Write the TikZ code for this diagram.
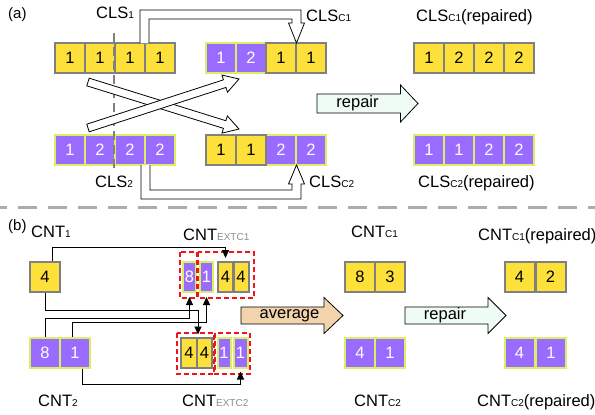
\documentclass[tikz,border=0pt]{standalone}
\usepackage{fontspec}
\setmainfont{Liberation Sans}
\usetikzlibrary{arrows.meta,calc}

\definecolor{cyel}{RGB}{253,224,58}
\definecolor{cpur}{RGB}{153,107,255}
\definecolor{cgrn}{RGB}{218,240,98}
\definecolor{cgry}{RGB}{128,128,128}
\definecolor{csep}{RGB}{172,172,172}
\definecolor{avgfill}{RGB}{242,212,172}
\definecolor{repfill}{RGB}{238,252,243}
\definecolor{cred}{RGB}{240,20,20}
\definecolor{subgray}{RGB}{140,140,140}

\newcommand\bigtxt{\fontsize{16.5}{18}\selectfont}
\newcommand\sbs[1]{{\fontsize{10}{10}\selectfont #1}}
\newcommand\gsbs[1]{{\fontsize{10}{10}\selectfont\color{subgray}#1}}

% hollow block arrow: style, tail point, tip point, half shaft, half head, head length
\newcommand\blockarrow[6]{%
  \coordinate (ba-h) at ($(#3)!#6!(#2)$);
  \filldraw[#1] ($(#2)!#4!90:(#3)$) -- ($(ba-h)!#4!-90:(#2)$) -- ($(ba-h)!#5!-90:(#2)$)
    -- (#3) -- ($(ba-h)!#5!90:(#2)$) -- ($(ba-h)!#4!90:(#2)$) -- ($(#2)!#4!-90:(#3)$) -- cycle;
}

\begin{document}
\begin{tikzpicture}[x=1pt,y=-1pt,
  cell/.style={minimum width=30pt, minimum height=30pt, inner sep=0pt, font=\bigtxt, line width=2pt},
  ycell/.style={cell, fill=cyel, draw=cgry, text=black},
  pcell/.style={cell, fill=cpur, draw=cgrn, text=white},
  lbl/.style={anchor=base west, inner sep=0pt, font=\bigtxt},
  hollow/.style={fill=white, draw=black, line width=0.8pt, line join=miter},
  redbox/.style={draw=cred, line width=1.9pt, dash pattern=on 5pt off 3pt},
  arr/.style={-{Triangle[length=8pt,width=7pt]}, line width=0.9pt, black},
]
\useasboundingbox (0,0) rectangle (595,415);

% ---------------- part (a) ----------------
\node[lbl, font=\fontsize{15}{16}\selectfont] (la) at (8,18) {(a)};
\node[lbl] (lcls1) at (96,19) {CLS\sbs{1}};
\node[lbl] (lclsc1) at (306,21.5) {CLS\sbs{C1}};
\node[lbl] (lrep1) at (416,21.5) {CLS\sbs{C1}(repaired)};
\node[lbl] (lcls2) at (95,187) {CLS\sbs{2}};
\node[lbl] (lclsc2) at (309,187) {CLS\sbs{C2}};
\node[lbl] (lrep2) at (418,187) {CLS\sbs{C2}(repaired)};

% CLS1
\foreach \v [count=\i] in {1,1,1,1}
  \node[ycell] (s1-\i) at (40+30*\i,58) {\v};
% CLS2
\foreach \v [count=\i] in {1,2,2,2}
  \node[pcell] (s2-\i) at (40+30*\i,150) {\v};
% CLS_C1
\node[pcell] (c1-1) at (221,58) {1};
\node[pcell] (c1-2) at (251,58) {2};
\node[ycell] (c1-3) at (281,58) {1};
\node[ycell] (c1-4) at (311,58) {1};
% CLS_C2
\node[pcell] (c2-3) at (281,150) {2};
\node[pcell] (c2-4) at (311,150) {2};
\node[ycell] (c2-1) at (221,150) {1};
\node[ycell] (c2-2) at (251,150) {1};
% repaired
\foreach \v [count=\i] in {1,2,2,2}
  \node[ycell] (r1-\i) at (399+30*\i,58) {\v};
\foreach \v [count=\i] in {1,1,2,2}
  \node[pcell] (r2-\i) at (399+30*\i,150) {\v};

% cut position
\draw[cgry, line width=2.5pt, dash pattern=on 9pt off 5pt] (114,33) -- (114,170);

% exchange arrows between the halves
\coordinate (xa-s) at (88,82);
\coordinate (xa-t) at (239,129);
\coordinate (xb-s) at (88,128);
\coordinate (xb-t) at (239,79);
\blockarrow{hollow}{xa-s}{xa-t}{4pt}{9pt}{15pt}
\blockarrow{hollow}{xb-s}{xb-t}{4pt}{9pt}{15pt}

% tail segments copied round the outside
\filldraw[hollow] (149,43) -- (149,19) -- (292,19) -- (292,23) -- (288.5,23) -- (296.5,43)
  -- (304.5,23) -- (301,23) -- (301,10) -- (140,10) -- (140,43);
\filldraw[hollow] (150,165) -- (150,190) -- (292,190) -- (292,184) -- (288.5,184) -- (296.5,165)
  -- (304.5,184) -- (301,184) -- (301,199) -- (141,199) -- (141,165);

% repair step
\coordinate (rpa-s) at (317,103.5);
\coordinate (rpa-t) at (418,103.5);
\blockarrow{hollow, fill=repfill}{rpa-s}{rpa-t}{9.5pt}{18.5pt}{17.5pt}
\node[font=\bigtxt, inner sep=0pt] (trpa) at (357.5,103.5) {repair};

% separator
\draw[csep, line width=3pt, dash pattern=on 19pt off 11pt, dash phase=12pt] (0,207) -- (595,207);

% ---------------- part (b) ----------------
\node[lbl, font=\fontsize{15}{16}\selectfont] (lb) at (8,230) {(b)};
\node[lbl] (lcnt1) at (31,237) {CNT\sbs{1}};
\node[lbl] (lext1) at (183,240) {CNT\gsbs{EXTC1}};
\node[lbl] (lcntc1) at (351,237) {CNT\sbs{C1}};
\node[lbl] (lrep3) at (478,240) {CNT\sbs{C1}(repaired)};
\node[lbl] (lcnt2) at (38,406) {CNT\sbs{2}};
\node[lbl] (lext2) at (182,406) {CNT\gsbs{EXTC2}};
\node[lbl] (lcntc2) at (354,406) {CNT\sbs{C2}};
\node[lbl] (lrep4) at (477,406) {CNT\sbs{C2}(repaired)};

% CNT1, CNT2
\node[ycell] (t1) at (45,277) {4};
\node[pcell] (n8) at (45,352.5) {8};
\node[pcell] (n1) at (75,352.5) {1};

% CNT_EXTC1
\node[pcell, minimum width=13pt] (x18) at (189.5,277) {8};
\node[pcell, minimum width=13pt] (x11) at (206.5,277) {1};
\node[ycell, minimum width=15pt] (x14a) at (225.5,277) {4};
\node[ycell, minimum width=15pt] (x14b) at (241,277) {4};
% CNT_EXTC2
\node[pcell, minimum width=13pt] (x21a) at (224,352.5) {1};
\node[pcell, minimum width=14pt] (x21b) at (240.5,352.5) {1};
\node[ycell, minimum width=16pt] (x24a) at (189,352.5) {4};
\node[ycell, minimum width=15pt] (x24b) at (204.5,352.5) {4};

% groups
\draw[redbox] (180,252) rectangle (197,298);
\draw[redbox] (198,252) rectangle (254,298);
\draw[redbox] (177,333) rectangle (214,374);
\draw[redbox] (215,333) rectangle (250,374);

% routing of counts
\draw[arr] ([xshift=7pt]t1.north) -- ++(0,-14) -| ([yshift=3pt]x14a.north);
\draw[arr] (t1.south) -- ++(0,17) -| ([yshift=2pt]x24a.north east);
\draw[arr] (n8.north) -- ++(0,-18.5) -| ([yshift=-4pt]x18.south);
\draw[arr] ([xshift=-3pt]n1.north) -- ++(0,-14.5) -| ([yshift=-4pt]x11.south);
\draw[arr] ([xshift=7pt]n1.south) -- ++(0,16) -| ([yshift=-3pt]x21b.south);

% average step
\coordinate (avg-s) at (241,315.5);
\coordinate (avg-t) at (343,315.5);
\blockarrow{hollow, fill=avgfill}{avg-s}{avg-t}{8.5pt}{18pt}{19pt}
\node[font=\bigtxt, inner sep=0pt] (tavg) at (289.5,315.5) {average};

% CNT_C1, CNT_C2
\node[ycell] (m8) at (360,277) {8};
\node[ycell] (m3) at (390,277) {3};
\node[pcell] (m4) at (360,352.5) {4};
\node[pcell] (m1) at (390,352.5) {1};

% repair step
\coordinate (rpb-s) at (405,315.5);
\coordinate (rpb-t) at (506,315.5);
\blockarrow{hollow, fill=repfill}{rpb-s}{rpb-t}{8.5pt}{18pt}{18pt}
\node[font=\bigtxt, inner sep=0pt] (trpb) at (445,315.5) {repair};

% repaired counts
\node[ycell] (q4) at (519.5,277) {4};
\node[ycell] (q2) at (550.5,277) {2};
\node[pcell] (p4) at (519.5,352.5) {4};
\node[pcell] (p1) at (551,352.5) {1};
\end{tikzpicture}
\end{document}
